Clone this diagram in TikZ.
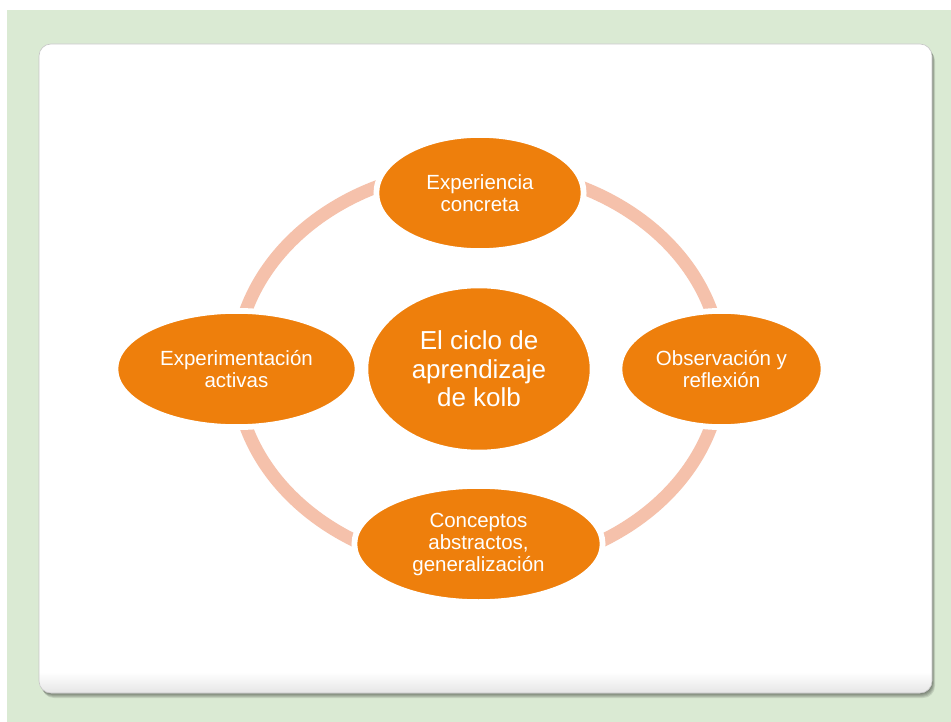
\documentclass[tikz,border=0pt]{standalone}
\usepackage{fontspec}
\setmainfont{Liberation Sans}
\usetikzlibrary{shapes.geometric}
\definecolor{bggreen}{HTML}{DAEAD3}
\definecolor{kolborange}{HTML}{EE7F0C}
\definecolor{ringpink}{HTML}{F5C1AB}
\tikzset{
  stage/.style={ellipse, fill=kolborange, draw=white, line width=2.5pt,
    preaction={draw=white, line width=9pt},
    text=white, inner sep=0pt, align=center,
    minimum height=113pt, font=\fontsize{20.5pt}{22pt}\selectfont},
  hub/.style={stage, font=\fontsize{26pt}{28.5pt}\selectfont}
}
\begin{document}
\begin{tikzpicture}[x=1pt,y=-1pt]
\useasboundingbox (0,0) rectangle (951,722);
\fill[white] (0,0) rectangle (951,722);
\fill[bggreen] (7,10) rectangle (951,722);
% card shadow
\foreach \i in {1,2,3,4,5}{
  \fill[black, opacity=0.10, rounded corners=12pt] (39+\i*0.6,44+\i) rectangle (932+\i*0.6,693+\i);
}
% card
\fill[white, rounded corners=12pt] (39,44) rectangle (932,693);
\begin{scope}
  \clip[rounded corners=12pt] (39,44) rectangle (932,693);
  \shade[top color=white, bottom color=black!10] (39,672) rectangle (932,693);
\end{scope}
\draw[black!22, line width=0.6pt, rounded corners=12pt] (39,44) rectangle (932,693);
% ring
\draw[ringpink, line width=13pt] (478.5,368.5) ellipse [x radius=243pt, y radius=200pt];
% nodes
\node[stage, minimum width=204pt] (top) at (480,193) {Experiencia\\concreta};
\node[stage, minimum width=201pt] (right) at (721.5,369) {Observación y\\reflexión};
\node[stage, minimum width=239pt] (left) at (236.5,369) {Experimentación\\activas};
\node[stage, minimum width=245pt] (bottom) at (478.5,544) {Conceptos\\abstractos,\\generalización};
\node[hub, minimum width=224pt, minimum height=164pt] (center) at (479,369) {El ciclo de\\aprendizaje\\de kolb};
\end{tikzpicture}
\end{document}
